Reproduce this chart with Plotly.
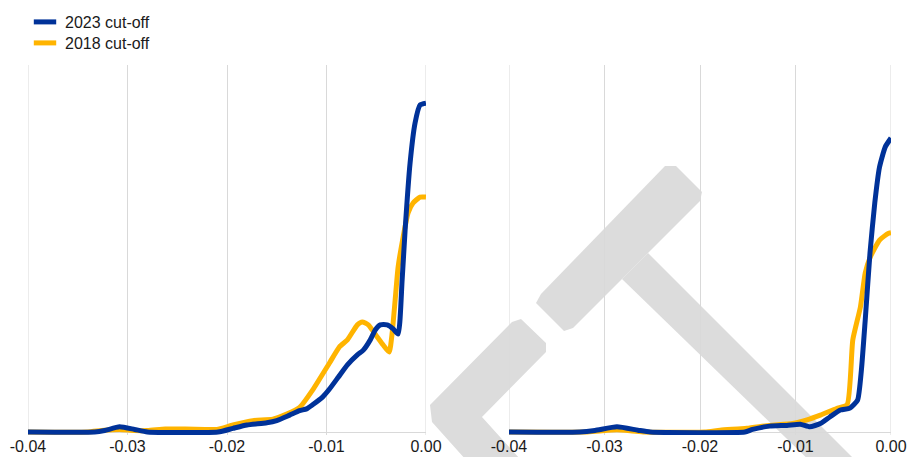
import plotly.graph_objects as go

W, H = 907, 457

# ---------------- data ----------------
series_names = ["2023 cut-off", "2018 cut-off"]
colors = {"2023 cut-off": "#003299", "2018 cut-off": "#FFB400"}

tick_vals = [-0.04, -0.03, -0.02, -0.01, 0.0]
tick_text = ["-0.04", "-0.03", "-0.02", "-0.01", "0.00"]

# left panel
left_x_2023 = [-0.0400, -0.0333, -0.0323, -0.0308, -0.0293, -0.0280, -0.0209, -0.0194,
               -0.0180, -0.0160, -0.0150, -0.0137, -0.0127, -0.0120, -0.0114, -0.0104,
               -0.0097, -0.0088, -0.0079, -0.0069, -0.0063, -0.0056, -0.0051, -0.0046,
               -0.0039, -0.0033, -0.0028, -0.0024, -0.0021, -0.0016, -0.0011, -0.0006, 0.0]
left_y_2023 = [0, 0, 0.4, 1.4, 0.7, 0, 0, 1.0,
               1.9, 2.5, 3.1, 4.6, 5.8, 6.3, 7.4, 9.5,
               11.7, 15.0, 18.3, 21.0, 22.3, 25.1, 27.8, 29.2,
               29.2, 28.1, 26.7, 41.4, 55.0, 73.3, 84.2, 89.1, 89.6]

left_x_2018 = [-0.0400, -0.0340, -0.0326, -0.0308, -0.0293, -0.0280, -0.0262, -0.0242,
               -0.0222, -0.0210, -0.0194, -0.0174, -0.0154, -0.0140, -0.0127, -0.0114,
               -0.0097, -0.0087, -0.0079, -0.0069, -0.0064, -0.0058, -0.0049, -0.0043,
               -0.0037, -0.0034, -0.0031, -0.0028, -0.0023, -0.0018, -0.0013, -0.0006, 0.0]
left_y_2018 = [0, 0, 0.4, 0.7, 0.4, 0.4, 0.8, 0.8,
               0.7, 0.7, 1.9, 3.1, 3.5, 4.9, 6.7, 11.4,
               18.8, 23.2, 25.1, 29.2, 30.0, 29.2, 25.9, 23.7,
               21.8, 27.0, 36.0, 45.0, 53.1, 59.7, 62.4, 64.0, 64.0]

# right panel
right_x_2023 = [-0.0400, -0.0326, -0.0310, -0.0287, -0.0265, -0.0252, -0.0153, -0.0145,
                -0.0127, -0.0109, -0.0095, -0.0085, -0.0074, -0.0064, -0.0053, -0.0043,
                -0.0035, -0.0031, -0.0027, -0.0022, -0.0017, -0.0012, -0.0006, 0.0]
right_y_2023 = [0, 0, 0.4, 1.4, 0.5, 0, 0, 0.7,
                1.6, 1.8, 2.1, 1.4, 2.3, 4.1, 6.0, 6.5,
                8.7, 16.9, 30.5, 48.8, 62.4, 72.2, 77.7, 80.1]

right_x_2018 = [-0.0400, -0.0320, -0.0305, -0.0287, -0.0271, -0.0258, -0.0195, -0.0179,
                -0.0151, -0.0127, -0.0103, -0.0088, -0.0074, -0.0057, -0.0046, -0.0040,
                -0.0032, -0.0027, -0.0022, -0.0012, -0.0003, 0.0]
right_y_2018 = [0, 0, 0.3, 0.6, 0.3, 0, 0, 0.5,
                1.0, 1.8, 2.3, 3.3, 4.6, 6.4, 7.4, 25.1,
                34.1, 43.3, 47.5, 52.3, 54.1, 54.3]

# ---------------- figure ----------------
fig = go.Figure()

line_kw = dict(shape="spline", smoothing=0.5, width=5)
panels = [
    ("x", "y", left_x_2018, left_y_2018, left_x_2023, left_y_2023),
    ("x2", "y2", right_x_2018, right_y_2018, right_x_2023, right_y_2023),
]
for xa, ya, x18, y18, x23, y23 in panels:
    fig.add_trace(go.Scatter(x=x18, y=y18, mode="lines", xaxis=xa, yaxis=ya,
                             line=dict(color=colors["2018 cut-off"], **line_kw),
                             showlegend=False, hoverinfo="skip"))
    fig.add_trace(go.Scatter(x=x23, y=y23, mode="lines", xaxis=xa, yaxis=ya,
                             line=dict(color=colors["2023 cut-off"], **line_kw),
                             showlegend=False, hoverinfo="skip"))

# legend entries (one legend per row so the rows sit where the reference has them)
for name, leg in zip(series_names, ["legend", "legend2"]):
    fig.add_trace(go.Scatter(x=[None], y=[None], mode="markers", name=name, legend=leg,
                             marker=dict(symbol="line-ew", size=17,
                                         line=dict(width=6, color=colors[name]),
                                         color=colors[name])))


def px2paper(px, py):
    return px / W, 1 - py / H


def path(points):
    parts = []
    for i, (px, py) in enumerate(points):
        x, y = px2paper(px, py)
        parts.append(("M" if i == 0 else "L") + f"{x:.5f},{y:.5f}")
    return " ".join(parts) + " Z"


wm = "#DCDCDC"
shapes = [
    # watermark: T bar
    dict(type="path", xref="paper", yref="paper", layer="below", line=dict(width=0), fillcolor=wm,
         path=path([(541, 294), (536, 303), (564, 331), (573, 328), (700, 201), (702, 192),
                    (676, 166), (665, 166)])),
    # T stem
    dict(type="path", xref="paper", yref="paper", layer="below", line=dict(width=0), fillcolor=wm,
         path=path([(622, 279), (648, 253), (880, 485), (850, 500)])),
    # chevron
    dict(type="path", xref="paper", yref="paper", layer="below", line=dict(width=0), fillcolor=wm,
         path=path([(512, 322), (521, 319), (546, 343), (546, 352), (482, 417), (530, 470),
                    (475, 470), (432, 422), (430, 405)])),
]

y_top_px, y_bot_px = 65, 435
y_max = 100.0
unit = (432 - y_top_px) / y_max
y_min = -(y_bot_px - 432) / unit

# grid lines at the two ends of each x range (plotly drops them at the range edges)
for xr in ["x", "x2"]:
    for xv in [tick_vals[0], tick_vals[-1]]:
        shapes.append(dict(type="line", xref=xr, yref="paper", x0=xv, x1=xv,
                           y0=1 - y_bot_px / H, y1=1 - y_top_px / H, layer="below",
                           line=dict(color="#D9D9D9", width=1)))

axis_font = dict(family="Arial, Liberation Sans, sans-serif", size=16, color="#1a1a1a")
xcommon = dict(range=[-0.04, 0.0], tickvals=tick_vals, ticktext=tick_text, showgrid=True,
               gridcolor="#D9D9D9", gridwidth=1, zeroline=False, showline=False, ticks="",
               ticklen=0, tickfont=axis_font, fixedrange=True, ticklabelstandoff=0,
               automargin=False)
ycommon = dict(range=[y_min, y_max], showgrid=False, showticklabels=False, zeroline=True,
               zerolinecolor="#D9D9D9", zerolinewidth=1, showline=False, ticks="",
               domain=[(H - y_bot_px) / H, (H - y_top_px) / H], fixedrange=True,
               automargin=False)

leg_common = dict(xanchor="left", yanchor="top", bgcolor="rgba(0,0,0,0)", itemsizing="trace",
                  font=dict(family="Arial, Liberation Sans, sans-serif", size=16, color="#1a1a1a"))

fig.update_layout(
    width=W, height=H,
    margin=dict(l=0, r=0, t=0, b=0),
    paper_bgcolor="white", plot_bgcolor="rgba(0,0,0,0)",
    font=axis_font,
    xaxis=dict(domain=[28 / W, 426 / W], anchor="y", **xcommon),
    yaxis=dict(anchor="x", **ycommon),
    xaxis2=dict(domain=[509 / W, 891 / W], anchor="y2", **xcommon),
    yaxis2=dict(anchor="x2", **ycommon),
    legend=dict(x=25 / W, y=1 - 5 / H, **leg_common),
    legend2=dict(x=25 / W, y=1 - 26 / H, **leg_common),
    shapes=shapes,
)

fig.write_html("out.html")
